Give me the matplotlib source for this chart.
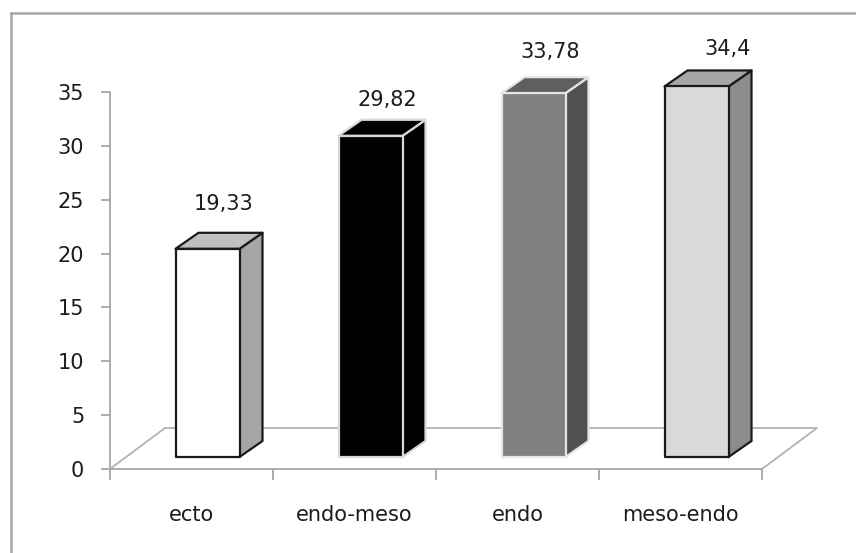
import matplotlib
matplotlib.use("Agg")
import matplotlib.pyplot as plt
from matplotlib.patches import Polygon
from matplotlib.lines import Line2D
from matplotlib.ticker import FixedLocator, NullFormatter

# ---- data -------------------------------------------------------------
categories = ["ecto", "endo-meso", "endo", "meso-endo"]
values = [19.33, 29.82, 33.78, 34.4]
value_labels = ["19,33", "29,82", "33,78", "34,4"]
y_ticks = [0, 5, 10, 15, 20, 25, 30, 35]

# ---- styling ----------------------------------------------------------
face_front = ["#ffffff", "#000000", "#808080", "#d9d9d9"]
face_top = ["#c0c0c0", "#000000", "#5f5f5f", "#a6a6a6"]
face_side = ["#a6a6a6", "#000000", "#515151", "#8c8c8c"]
edge_cols = ["#1a1a1a", "#d8d8d8", "#e6e6e6", "#1a1a1a"]
label_dx_px = [16, 17, 17, 31]       # label shift to the right of bar front centre
label_dy_px = [39, 30, 35, 31]       # label baseline above bar front top

W, H, DPI = 856, 553, 100
fig = plt.figure(figsize=(W / DPI, H / DPI), dpi=DPI)
fig.patch.set_facecolor("white")

# plot area in pixels: x 110..762, y 92 (value 35) .. 469 (value 0)
left_px, right_px, top_px, bot_px = 110, 762, 92, 469
ax = fig.add_axes([left_px / W, (H - bot_px) / H,
                   (right_px - left_px) / W, (bot_px - top_px) / H])
ax.set_xlim(-0.5, len(categories) - 0.5)
ax.set_ylim(0, 35)
ax.patch.set_alpha(0)

# pixel -> data unit conversions
ux = (len(categories)) / (right_px - left_px)
uy = 35.0 / (bot_px - top_px)

axis_grey = "#a6a6a6"
txt_col = "#1c1c1c"
fs = 15

# floor (drawn as an outline)
fdx, fdy = 55 * ux, 41 * uy
x0, x1 = -0.5, len(categories) - 0.5
ax.plot([x0, x0 + fdx, x1 + fdx, x1], [0, fdy, fdy, 0],
        color="#b3b3b3", lw=1.3, clip_on=False, zorder=1)

# 3-D looking columns
off_x, off_y = 16 * ux, 12 * uy       # front face offset inside the floor
dep_x, dep_y = 23 * ux, 16 * uy       # column depth
half_w = 32 * ux
for i, v in enumerate(values):
    cx = i + off_x
    xl, xr = cx - half_w, cx + half_w
    yb, yt = off_y, off_y + v
    side = [(xr, yb), (xr + dep_x, yb + dep_y), (xr + dep_x, yt + dep_y), (xr, yt)]
    top = [(xl, yt), (xr, yt), (xr + dep_x, yt + dep_y), (xl + dep_x, yt + dep_y)]
    front = [(xl, yb), (xr, yb), (xr, yt), (xl, yt)]
    for pts, fc in ((side, face_side[i]), (top, face_top[i]), (front, face_front[i])):
        ax.add_patch(Polygon(pts, closed=True, facecolor=fc, edgecolor=edge_cols[i],
                             lw=1.6, joinstyle="round", clip_on=False, zorder=3))
    ax.annotate(value_labels[i], xy=(cx, yt), xytext=(label_dx_px[i], label_dy_px[i]),
                textcoords="offset pixels", ha="center", va="baseline",
                fontsize=fs, color=txt_col, annotation_clip=False, zorder=5)

# axes styling
for s in ("top", "right"):
    ax.spines[s].set_visible(False)
for s in ("left", "bottom"):
    ax.spines[s].set_color(axis_grey)
    ax.spines[s].set_linewidth(1.3)

ax.set_yticks(y_ticks)
ax.set_yticklabels([str(t) for t in y_ticks])
ax.tick_params(axis="y", direction="out", length=6.5, width=1.3, color=axis_grey,
               pad=12, labelsize=fs, labelcolor=txt_col)

ax.xaxis.set_major_locator(FixedLocator([i - 0.5 for i in range(len(categories) + 1)]))
ax.xaxis.set_major_formatter(NullFormatter())
ax.xaxis.set_minor_locator(FixedLocator(list(range(len(categories)))))
ax.set_xticklabels(categories, minor=True)
ax.tick_params(axis="x", which="major", direction="out", length=8, width=1.3,
               color=axis_grey)
ax.tick_params(axis="x", which="minor", length=0, pad=26, labelsize=fs,
               labelcolor=txt_col)

# chart frame
fx, fy = 11 / W, 1 - 13 / H
fig.add_artist(Line2D([fx, 1.0], [fy, fy], transform=fig.transFigure,
                      color="#a6a6a6", lw=1.8))
fig.add_artist(Line2D([fx, fx], [fy, 0.0], transform=fig.transFigure,
                      color="#a6a6a6", lw=1.8))

fig.savefig("out.png", dpi=DPI, facecolor="white")
